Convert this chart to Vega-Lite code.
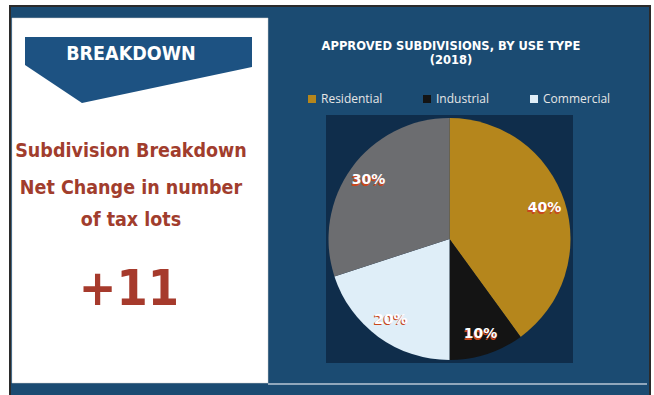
{
  "$schema": "https://vega.github.io/schema/vega-lite/v6.json",
  "width": 247,
  "height": 248,
  "autosize": {"type": "none"},
  "padding": {"left": 326, "top": 115, "right": 81, "bottom": 32},
  "background": "#ffffff",
  "config": {"view": {"stroke": null}, "axis": {"disable": true}},
  "datasets": {
    "pie": [
      {"type": "Residential", "share": 40, "label": "40%", "order": 1},
      {"type": "Industrial", "share": 10, "label": "10%", "order": 2},
      {"type": "Commercial", "share": 20, "label": "20%", "order": 3},
      {"type": "Other", "share": 30, "label": "30%", "order": 4}
    ],
    "one": [{}]
  },
  "layer": [
    {
      "data": {"name": "one"},
      "mark": {"type": "rect", "fill": "#1b4b72", "stroke": "#2b2b2b", "strokeWidth": 2},
      "encoding": {
        "x": {"datum": 10, "type": "quantitative", "axis": null, "scale": {"domain": [326, 573], "zero": false, "nice": false}},
        "x2": {"datum": 650},
        "y": {"datum": 6, "type": "quantitative", "axis": null, "scale": {"domain": [115, 363], "reverse": true, "zero": false, "nice": false}},
        "y2": {"datum": 398}
      }
    },
    {
      "data": {"name": "one"},
      "mark": {"type": "rect", "fill": "#ffffff", "stroke": "#cfcfcf", "strokeWidth": 0.5},
      "encoding": {
        "x": {"datum": 12, "type": "quantitative"},
        "x2": {"datum": 268},
        "y": {"datum": 18, "type": "quantitative"},
        "y2": {"datum": 383}
      }
    },
    {
      "data": {"name": "one"},
      "mark": {"type": "point", "filled": true, "fill": "#1d5282", "opacity": 1, "strokeWidth": 0, "size": 51529, "shape": "M -1 -0.291 L 1 -0.291 L 1 -0.026 L -0.498 0.291 L -1 -0.044 Z"},
      "encoding": {
        "x": {"datum": 138.5, "type": "quantitative"},
        "y": {"datum": 70, "type": "quantitative"}
      }
    },
    {
      "data": {"name": "one"},
      "mark": {"type": "text", "font": "DejaVu Sans Condensed", "fontWeight": "bold", "fontSize": 19.5, "color": "#ffffff", "align": "center", "baseline": "alphabetic"},
      "encoding": {
        "x": {"datum": 131, "type": "quantitative"},
        "y": {"datum": 60, "type": "quantitative"},
        "text": {"value": "BREAKDOWN"}
      }
    },
    {
      "data": {"name": "one"},
      "mark": {"type": "text", "font": "DejaVu Sans Condensed", "fontWeight": "bold", "fontSize": 19.5, "color": "#a13d2d", "align": "center", "baseline": "alphabetic"},
      "encoding": {
        "x": {"datum": 131, "type": "quantitative"},
        "y": {"datum": 157, "type": "quantitative"},
        "text": {"value": "Subdivision Breakdown"}
      }
    },
    {
      "data": {"name": "one"},
      "mark": {"type": "text", "font": "DejaVu Sans Condensed", "fontWeight": "bold", "fontSize": 19.5, "color": "#a13d2d", "align": "center", "baseline": "alphabetic"},
      "encoding": {
        "x": {"datum": 131, "type": "quantitative"},
        "y": {"datum": 194, "type": "quantitative"},
        "text": {"value": "Net Change in number"}
      }
    },
    {
      "data": {"name": "one"},
      "mark": {"type": "text", "font": "DejaVu Sans Condensed", "fontWeight": "bold", "fontSize": 19.5, "color": "#a13d2d", "align": "center", "baseline": "alphabetic"},
      "encoding": {
        "x": {"datum": 131, "type": "quantitative"},
        "y": {"datum": 226, "type": "quantitative"},
        "text": {"value": "of tax lots"}
      }
    },
    {
      "data": {"name": "one"},
      "mark": {"type": "text", "font": "DejaVu Sans Condensed", "fontWeight": "bold", "fontSize": 50, "color": "#a63a2c", "align": "center", "baseline": "alphabetic"},
      "encoding": {
        "x": {"datum": 129, "type": "quantitative"},
        "y": {"datum": 305, "type": "quantitative"},
        "text": {"value": "+11"}
      }
    },
    {
      "data": {"name": "one"},
      "mark": {"type": "text", "font": "DejaVu Sans", "fontWeight": "bold", "fontSize": 11.5, "color": "#ffffff", "align": "center", "baseline": "alphabetic"},
      "encoding": {
        "x": {"datum": 451, "type": "quantitative"},
        "y": {"datum": 50, "type": "quantitative"},
        "text": {"value": "APPROVED SUBDIVISIONS, BY USE TYPE"}
      }
    },
    {
      "data": {"name": "one"},
      "mark": {"type": "text", "font": "DejaVu Sans", "fontWeight": "bold", "fontSize": 11.5, "color": "#ffffff", "align": "center", "baseline": "alphabetic"},
      "encoding": {
        "x": {"datum": 451, "type": "quantitative"},
        "y": {"datum": 64, "type": "quantitative"},
        "text": {"value": "(2018)"}
      }
    },
    {
      "data": {"name": "one"},
      "mark": {"type": "rect", "fill": "#0f2d4b"},
      "encoding": {
        "x": {"datum": 326, "type": "quantitative"},
        "x2": {"datum": 573},
        "y": {"datum": 115, "type": "quantitative"},
        "y2": {"datum": 363}
      }
    },
    {
      "data": {"name": "one"},
      "mark": {"type": "rule", "color": "#b9c6d6", "strokeWidth": 1.5},
      "encoding": {
        "x": {"datum": 268, "type": "quantitative"},
        "x2": {"datum": 647},
        "y": {"datum": 384, "type": "quantitative"}
      }
    },
    {
      "data": {"name": "pie"},
      "mark": {"type": "arc", "outerRadius": 121},
      "encoding": {
        "theta": {"field": "share", "type": "quantitative", "stack": true},
        "order": {"field": "order", "type": "quantitative"},
        "color": {
          "field": "type",
          "type": "nominal",
          "scale": {"domain": ["Residential", "Industrial", "Commercial", "Other"], "range": ["#b5861c", "#141414", "#dfeef8", "#6c6d70"]},
          "legend": {
            "values": ["Residential", "Industrial", "Commercial"],
            "title": null,
            "orient": "none",
            "legendX": -20,
            "legendY": -22,
            "direction": "horizontal",
            "columns": 3,
            "columnPadding": 38,
            "symbolType": "square",
            "symbolSize": 64,
            "symbolStrokeWidth": 0,
            "symbolOpacity": 1,
            "labelColor": "#e6e6e6",
            "labelFont": "Open Sans",
            "labelFontSize": 12,
            "labelOffset": 3
          }
        }
      }
    },
    {
      "data": {"name": "pie"},
      "mark": {"type": "text", "radius": 100, "font": "DejaVu Sans", "fontWeight": "bold", "fontSize": 14, "color": "#c9471c", "dx": -1, "dy": 1.5},
      "encoding": {
        "theta": {"field": "share", "type": "quantitative", "stack": true},
        "order": {"field": "order", "type": "quantitative"},
        "text": {"field": "label", "type": "nominal"}
      }
    },
    {
      "data": {"name": "pie"},
      "mark": {"type": "text", "radius": 100, "font": "DejaVu Sans", "fontWeight": "bold", "fontSize": 14, "color": "#ffffff"},
      "encoding": {
        "theta": {"field": "share", "type": "quantitative", "stack": true},
        "order": {"field": "order", "type": "quantitative"},
        "text": {"field": "label", "type": "nominal"}
      }
    }
  ]
}
